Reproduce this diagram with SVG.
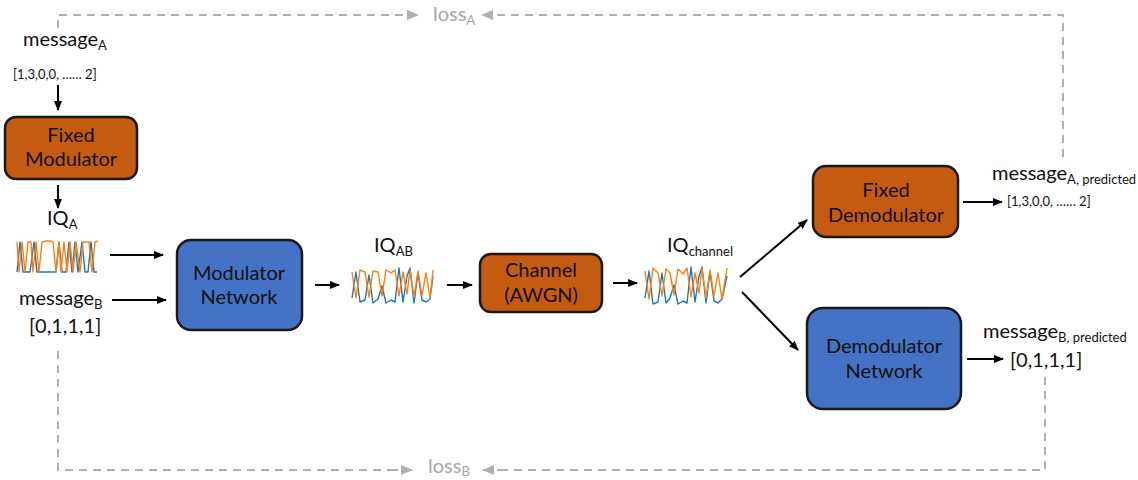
<svg xmlns="http://www.w3.org/2000/svg" width="1138" height="480" viewBox="0 0 1138 480">
<style>
.t{font-family:Lato,"Noto Sans",sans-serif;font-size:20px;fill:#111;}
.c{text-anchor:middle;}
.s{font-size:13px;}
.sm{font-size:13px;}
.g{fill:#a6a6a6;}
.box{stroke:#1a1a1a;stroke-width:2.5;}
.or{fill:#c55a11;}
.bl{fill:#4472c4;}
.ar{stroke:#000;stroke-width:2;fill:none;marker-end:url(#ah);}
.dl{stroke:#afafaf;stroke-width:2;fill:none;stroke-dasharray:8 6;}
.dg{stroke:#afafaf;stroke-width:2;fill:none;stroke-dasharray:8 6;marker-end:url(#gh);}
.wo{stroke:#ff7f0e;stroke-width:1.4;fill:none;stroke-linejoin:round;}
.wb{stroke:#1f77b4;stroke-width:1.4;fill:none;stroke-linejoin:round;}
</style>
<defs>
<marker id="ah" markerUnits="userSpaceOnUse" markerWidth="10" markerHeight="8" refX="9" refY="4" orient="auto"><path d="M0,0 L10,4 L0,8 Z" fill="#000"/></marker>
<marker id="gh" markerUnits="userSpaceOnUse" markerWidth="12" markerHeight="10" refX="11" refY="5" orient="auto"><path d="M0,0 L12,5 L0,10 Z" fill="#afafaf"/></marker>
</defs>
<rect width="1138" height="480" fill="#fff"/>

<g id="connectors">
<path class="dl" d="M58,28 V15 H400"/>
<path class="dg" d="M395,15 H418"/>
<path class="dl" d="M1063,157 V15 H500"/>
<path class="dg" d="M505,15 H482"/>
<path class="dl" d="M58,351 V470 H395"/>
<path class="dg" d="M390,470 H412"/>
<path class="dl" d="M1045,377 V470 H500"/>
<path class="dg" d="M505,470 H483"/>
<path class="ar" d="M58,85 V110"/>
<path class="ar" d="M58,185 V208"/>
<path class="ar" d="M110,255 H163"/>
<path class="ar" d="M112,300 H166"/>
<path class="ar" d="M315,285 H339"/>
<path class="ar" d="M447,285 H472"/>
<path class="ar" d="M613,283 H637"/>
<path class="ar" d="M740,277 L807,220"/>
<path class="ar" d="M742,292 L798,350"/>
<path class="ar" d="M963,202 H1002"/>
<path class="ar" d="M967,359 H1003"/>
</g>

<g id="messageA">
<text class="t" x="23" y="46">message<tspan class="s" dy="4">A</tspan></text>
<text class="t sm" x="13" y="79">[1,3,0,0, …… 2]</text>
</g>

<g id="fixed-modulator">
<rect class="box or" x="5" y="117" width="132" height="62" rx="11"/>
<text class="t c" x="71" y="142">Fixed</text>
<text class="t c" x="71" y="166">Modulator</text>
</g>

<g id="iqA">
<text class="t" x="47" y="225">IQ<tspan class="s" dy="4">A</tspan></text>
<polyline class="wb" points="17,272 20,242 23,272 27,272 30,272 34,242 37,272 41,272 45,272 49,272 53,272 56,272 59,242 62,272 64,272 66,272 69,242 72,272 75,242 78,272 82,242 85,272 88,272 91,242 94,272 97,272"/>
<polyline class="wo" points="17,242 19,272 22,242 25,272 28,242 31,242 33,272 36,242 39,272 42,242 46,241 50,241 53,242 56,272 59,242 61,272 64,242 67,272 70,242 73,272 76,242 80,272 83,242 86,242 89,242 92,272 95,242 98,241"/>
</g>

<g id="messageB">
<text class="t" x="19" y="305">message<tspan class="s" dy="4">B</tspan></text>
<text class="t" x="29" y="333">[0,1,1,1]</text>
</g>

<g id="modulator-network">
<rect class="box bl" x="177" y="240" width="125" height="90" rx="14"/>
<text class="t c" x="239" y="280">Modulator</text>
<text class="t c" x="239" y="304">Network</text>
</g>

<g id="iqAB">
<text class="t" x="374" y="252">IQ<tspan class="s" dy="4">AB</tspan></text>
<polyline class="wb" points="352,298 356,272 360,302 365,300 369,275 373,303 378,299 382,286 386,303 391,300 395,302 399,268 403,302 407,276 410,268 414,303 418,273 422,300 426,302 430,299 433,276"/>
<polyline class="wo" points="352,272 356,298 360,270 365,272 369,297 373,271 378,272 382,296 386,270 391,273 395,270 399,296 403,272 407,294 410,270 414,297 418,271 422,296 426,273 430,298 433,270"/>
</g>

<g id="channel">
<rect class="box or" x="480" y="254" width="122" height="58" rx="11"/>
<text class="t c" x="541" y="277">Channel</text>
<text class="t c" x="541" y="302">(AWGN)</text>
</g>

<g id="iqChannel">
<text class="t" x="667" y="252">IQ<tspan class="s" dy="4">channel</tspan></text>
<polyline class="wb" points="645,298 649,271 653,304 658,302 662,273 666,303 670,298 674,285 678,304 683,301 687,303 691,267 695,302 699,276 702,267 706,303 710,272 714,301 718,303 722,299 727,276"/>
<polyline class="wo" points="645,271 649,299 653,268 658,273 662,296 666,269 670,273 674,295 678,269 683,274 687,268 691,297 695,273 699,293 702,268 706,298 710,270 714,296 718,273 722,299 727,268"/>
</g>

<g id="fixed-demodulator">
<rect class="box or" x="813" y="166" width="145" height="71" rx="13"/>
<text class="t c" x="886" y="197">Fixed</text>
<text class="t c" x="886" y="222">Demodulator</text>
</g>

<g id="demodulator-network">
<rect class="box bl" x="807" y="308" width="154" height="101" rx="16"/>
<text class="t c" x="884" y="353">Demodulator</text>
<text class="t c" x="884" y="378">Network</text>
</g>

<g id="messageA-predicted">
<text class="t" x="992" y="180">message<tspan class="s" dy="4">A, predicted</tspan></text>
<text class="t sm" x="1007" y="206">[1,3,0,0, …… 2]</text>
</g>

<g id="messageB-predicted">
<text class="t" x="983" y="338">message<tspan class="s" dy="4">B, predicted</tspan></text>
<text class="t" x="1010" y="367">[0,1,1,1]</text>
</g>

<g id="lossA">
<text class="t g" x="433" y="21">loss<tspan class="s" dy="4">A</tspan></text>
</g>
<g id="lossB">
<text class="t g" x="428" y="473">loss<tspan class="s" dy="3">B</tspan></text>
</g>
</svg>
